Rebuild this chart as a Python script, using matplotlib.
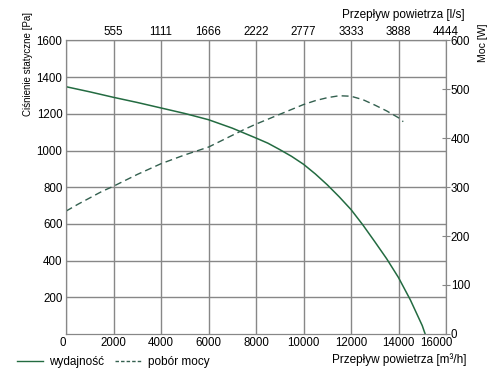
import matplotlib
matplotlib.use("Agg")
import matplotlib.pyplot as plt
import matplotlib.transforms as mtransforms
from matplotlib.lines import Line2D

plt.rcParams["font.family"] = ["Liberation Sans", "DejaVu Sans"]

# pressure curve (wydajnosc), Pa vs m3/h
flow_p = [0, 1000, 2000, 3000, 4000, 5000, 6000, 7000, 8000, 8500, 9000, 9500, 10000,
          10500, 11000, 11500, 12000, 12500, 13000, 13500, 14000, 14500, 15000, 15120]
pressure = [1348, 1320, 1290, 1262, 1232, 1202, 1168, 1122, 1068, 1040, 1005, 968, 925,
            872, 813, 748, 678, 594, 503, 410, 307, 185, 45, 0]

# power curve (pobor mocy), W vs m3/h
flow_w = [0, 500, 1000, 1500, 2000, 2500, 3000, 3500, 4000, 4500, 5000, 5500, 6000, 6500,
          7000, 7500, 8000, 8500, 9000, 9500, 10000, 10500, 11000, 11500, 12000, 12500,
          13000, 13500, 14000, 14200]
power = [251, 265, 278, 291, 302, 314, 326, 337, 348, 357, 366, 374, 382, 394,
         406, 418, 429, 439, 449, 459, 469, 477, 483, 487, 486, 479,
         468, 456, 442, 434]

x_ticks = [0, 2000, 4000, 6000, 8000, 10000, 12000, 14000, 16000]
top_labels = ["555", "1111", "1666", "2222", "2777", "3333", "3888", "4444"]
y_ticks = [200, 400, 600, 800, 1000, 1200, 1400, 1600]
w_ticks = [0, 100, 200, 300, 400, 500, 600]

GRID = "#878787"
C_P = "#236b41"
C_W = "#33604f"
FS = 8.3

fig = plt.figure(figsize=(5.0, 3.82), dpi=100)
ax = fig.add_axes([0.132, 0.126, 0.76, 0.768])

ax.plot(flow_p, pressure, color=C_P, lw=1.1)
ax.set_xlim(0, 16000)
ax.set_ylim(0, 1600)
ax.set_xticks(x_ticks)
ax.set_yticks(y_ticks)
ax.tick_params(labelsize=FS, length=0, pad=2.5)
xl = ax.get_xticklabels()
xl[0].set_ha("right")
# the last bottom label sits a bit left of its grid line, clear of the right axis
xl[-1].set_transform(xl[-1].get_transform()
                     + mtransforms.ScaledTranslation(-0.10, 0, fig.dpi_scale_trans))
ax.grid(True, color=GRID, lw=1)
for s in ax.spines.values():
    s.set_color(GRID)

ax2 = ax.twinx()
ax2.plot(flow_w, power, color=C_W, lw=1.0, ls=(0, (5, 3)))
ax2.set_ylim(0, 600)
ax2.set_yticks(w_ticks)
ax2.tick_params(labelsize=FS, length=6, direction="inout", color=GRID, pad=0.5)
for s in ax2.spines.values():
    s.set_color(GRID)

ax3 = ax.twiny()
ax3.set_xlim(0, 16000)
ax3.set_xticks(x_ticks[1:])
ax3.set_xticklabels(top_labels)
ax3.tick_params(labelsize=FS, length=0, pad=2)
for s in ax3.spines.values():
    s.set_visible(False)

fig.text(0.056, 1 - 64.5 / 382, "Ciśnienie statyczne [Pa]", fontsize=7.0, rotation=90,
         ha="center", va="center", family=["Liberation Sans Narrow", "Liberation Sans"])
fig.text(0.966, 1 - 43 / 382, "Moc [W]", fontsize=7.6, rotation=90,
         ha="center", va="center", family=["Liberation Sans Narrow", "Liberation Sans"])
fig.text(0.93, 1 - 15 / 382, "Przepływ powietrza [l/s]", fontsize=8.5, ha="right", va="center")
fig.text(0.932, 1 - 360 / 382, "Przepływ powietrza [m³/h]", fontsize=8.5, ha="right", va="center")

handles = [Line2D([], [], color=C_P, lw=1.0),
           Line2D([], [], color=C_W, lw=1.0, ls=(0, (2.5, 1.5)))]
fig.legend(handles, ["wydajność", "pobór mocy"], loc="center left",
           bbox_to_anchor=(0.034, 1 - 362.5 / 382), ncol=2, frameon=False, fontsize=8.5,
           borderpad=0, borderaxespad=0, handlelength=2.2, handletextpad=0.55,
           columnspacing=0.9)

fig.savefig("out.png", dpi=100)
